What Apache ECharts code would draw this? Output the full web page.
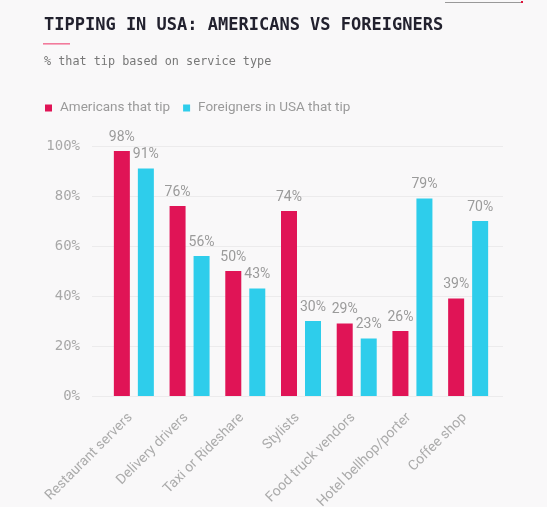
<!DOCTYPE html>
<html>
<head>
<meta charset="utf-8">
<script src="https://cdn.jsdelivr.net/npm/echarts@6/dist/echarts.min.js"></script>
<style>
html,body{margin:0;padding:0;background:#f9f8f9;}
#c{width:547px;height:507px;}
</style>
</head>
<body>
<div id="c"></div>
<script>
const categories = ["Restaurant servers","Delivery drivers","Taxi or Rideshare","Stylists","Food truck vendors","Hotel bellhop/porter","Coffee shop"];
const americans = [98, 76, 50, 74, 29, 26, 39];
const foreigners = [91, 56, 43, 30, 23, 79, 70];
const seriesNames = ["Americans that tip", "Foreigners in USA that tip"];
const yTicks = [0, 20, 40, 60, 80, 100];
const titleText = "TIPPING IN USA: AMERICANS VS FOREIGNERS";
const subtitleText = "% that tip based on service type";

const RED = "#e01456";
const BLUE = "#2ecdeb";
const sans = "Roboto, 'Noto Sans', sans-serif";
const mono = "'DejaVu Sans Mono', 'Liberation Mono', monospace";

const chart = echarts.init(document.getElementById('c'));
chart.setOption({
  backgroundColor: "#f9f8f9",
  animation: false,
  graphic: [
    { type: 'text', left: 44, top: 17, style: { text: titleText, font: "bold 17px " + mono, fill: "#22212e" } },
    { type: 'rect', shape: { x: 43, y: 43, width: 27, height: 1.6 }, style: { fill: '#f27a9b' } },
    { type: 'text', left: 44, top: 56, style: { text: subtitleText, font: "11.8px " + mono, fill: "#777" } },
    { type: 'rect', shape: { x: 445, y: 2, width: 76, height: 1 }, style: { fill: '#999' } },
    { type: 'rect', shape: { x: 521, y: 1, width: 2, height: 2 }, style: { fill: '#e0143c' } }
  ],
  legend: {
    data: seriesNames,
    left: 45, top: 101, padding: 0,
    icon: 'rect', itemWidth: 7, itemHeight: 7, itemGap: 13,
    textStyle: { fontFamily: sans, fontSize: 13.5, color: "#9a9a9a", padding: [0, 0, 0, 3] }
  },
  grid: [
    { left: 92, right: 44, top: 146, bottom: 111, containLabel: false, outerBoundsMode: 'none' },
    { left: 106, right: 51, top: 146, bottom: 111, containLabel: false, outerBoundsMode: 'none' }
  ],
  xAxis: [
    { type: 'category', gridIndex: 0, data: categories, show: false },
    {
      type: 'category', gridIndex: 1, data: categories,
      axisLine: { show: false }, axisTick: { show: false },
      axisLabel: { rotate: 45, interval: 0, margin: 16, padding: [0, 5, 0, 0], fontFamily: sans, fontSize: 14, color: "#ababab" }
    }
  ],
  yAxis: [
    {
      type: 'value', gridIndex: 0, min: yTicks[0], max: yTicks[yTicks.length - 1], interval: 20,
      axisLine: { show: false }, axisTick: { show: false },
      splitLine: { lineStyle: { color: "#ecebec", width: 1 } },
      axisLabel: { formatter: '{value}%', margin: 12, fontFamily: mono, fontSize: 14, color: "#a8a8a8" }
    },
    { type: 'value', gridIndex: 1, min: 0, max: 100, show: false }
  ],
  series: [
    {
      name: seriesNames[0], type: 'bar', xAxisIndex: 1, yAxisIndex: 1,
      data: americans, barWidth: 16, barGap: '50%',
      itemStyle: { color: RED },
      label: { show: true, position: 'top', distance: 7, formatter: '{c}%', fontFamily: sans, fontSize: 14, color: "#9a9a9a" }
    },
    {
      name: seriesNames[1], type: 'bar', xAxisIndex: 1, yAxisIndex: 1,
      data: foreigners, barWidth: 16, barGap: '50%',
      itemStyle: { color: BLUE },
      label: { show: true, position: 'top', distance: 7, formatter: '{c}%', fontFamily: sans, fontSize: 14, color: "#9a9a9a" }
    }
  ]
});
</script>
</body>
</html>
